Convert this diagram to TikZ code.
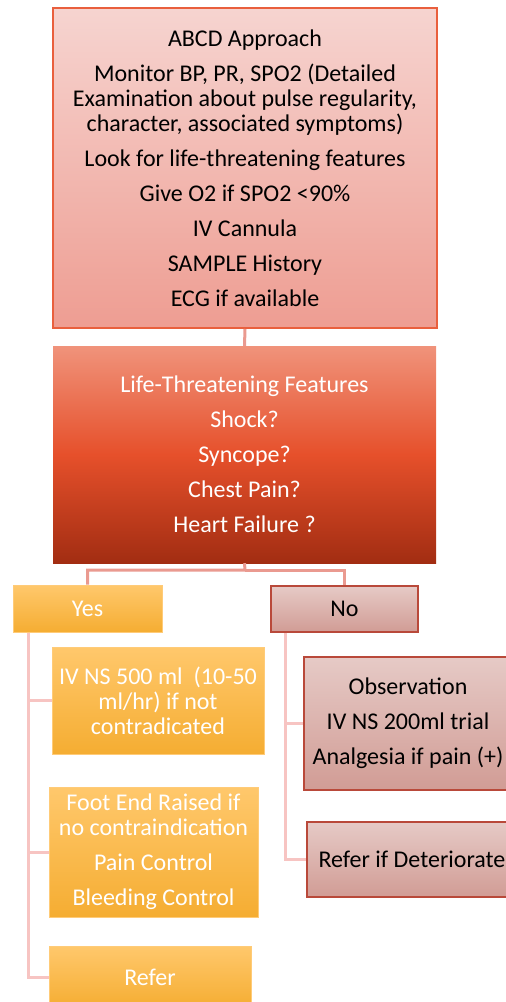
\documentclass[tikz,border=0pt]{standalone}
\usepackage{fontspec}
\setmainfont{Carlito}
\definecolor{pinktop}{HTML}{F6D4D0}
\definecolor{pinkbot}{HTML}{EE9D92}
\definecolor{pinkedge}{HTML}{E95F3D}
\definecolor{redtop}{HTML}{F0937B}
\definecolor{redmid}{HTML}{E6502B}
\definecolor{redbot}{HTML}{A22D12}
\definecolor{orangetop}{HTML}{FFC86C}
\definecolor{orangebot}{HTML}{F5AD32}
\definecolor{orangeedge}{HTML}{FFCB78}
\definecolor{rosetop}{HTML}{E6CAC6}
\definecolor{rosebot}{HTML}{D19C95}
\definecolor{roseedge}{HTML}{B9493A}
\definecolor{linkdark}{HTML}{EA9A90}
\definecolor{linklight}{HTML}{F7C4C2}
\begin{document}
\begin{tikzpicture}[x=1pt,y=-1pt,
    txt/.style={align=center,inner sep=1pt,font=\fontsize{24}{25}\selectfont},
    approach/.style={txt,draw=pinkedge,line width=2pt,top color=pinktop,bottom color=pinkbot},
    threat/.style={txt,text=white,top color=redtop,bottom color=redbot,middle color=redmid},
    yesbox/.style={txt,text=white,draw=orangeedge,line width=1pt,top color=orangetop,bottom color=orangebot},
    nobox/.style={txt,draw=roseedge,line width=1.5pt,top color=rosetop,bottom color=rosebot},
    link/.style={draw=linkdark,line width=3pt},
    branch/.style={draw=linklight,line width=3pt}]
    \useasboundingbox (0,0) rectangle (506,1002);
    \clip (0,0) rectangle (506,1002);
    \coordinate (split) at (245,570);
    \node[approach,minimum width=384pt,minimum height=320pt] (abcd) at (245,168)
      {ABCD Approach\\[10pt]
       Monitor BP, PR, SPO2 (Detailed\\
       Examination about pulse regularity,\\
       character, associated symptoms)\\[10pt]
       Look for life-threatening features\\[10pt]
       Give O2 if SPO2 <90\%\\[10pt]
       IV Cannula\\[10pt]
       SAMPLE History\\[10pt]
       ECG if available};
    \node[threat,minimum width=383pt,minimum height=217pt] (life) at (244.5,454.5)
      {Life-Threatening Features\\[10pt]
       Shock?\\[10pt]
       Syncope?\\[10pt]
       Chest Pain?\\[10pt]
       Heart Failure ?};
    \node[yesbox,minimum width=149pt,minimum height=47pt] (yes) at (87.5,608.5) {Yes};
    \node[nobox,minimum width=147pt,minimum height=46pt] (no) at (344.5,609) {No};
    \node[yesbox,minimum width=212pt,minimum height=107pt] (fluid) at (158,700.5)
      {IV NS 500 ml\ \ (10-50\\ ml/hr) if not\\ contradicated};
    \node[yesbox,minimum width=209pt,minimum height=130pt] (care) at (153.5,852)
      {Foot End Raised if\\ no contraindication\\[10pt]
       Pain Control\\[10pt]
       Bleeding Control};
    \node[yesbox,minimum width=202pt,minimum height=62pt] (refer) at (150,977) {Refer};
    \node[nobox,minimum width=208pt,minimum height=133pt] (observe) at (408,723.5)
      {Observation\\[10pt]
       IV NS 200ml trial\\[10pt]
       Analgesia if pain (+)};
    \node[nobox,minimum width=210pt,minimum height=75pt] (worse) at (412,859.5)
      {Refer if Deteriorate};
    % connectors
    \path[link] (abcd.south) -- (life.north);
    \path[link] (life.south) -- (split) -| (yes.north);
    \path[link] (split) -| (no.north);
    \path[branch] ([xshift=16pt]yes.south west) |- (fluid.west);
    \path[branch] ([xshift=16pt]yes.south west) |- (care.west);
    \path[branch] ([xshift=16pt]yes.south west) |- (refer.west);
    \path[branch] ([xshift=15pt]no.south west) |- (observe.west);
    \path[branch] ([xshift=15pt]no.south west) |- (worse.west);
\end{tikzpicture}
\end{document}
